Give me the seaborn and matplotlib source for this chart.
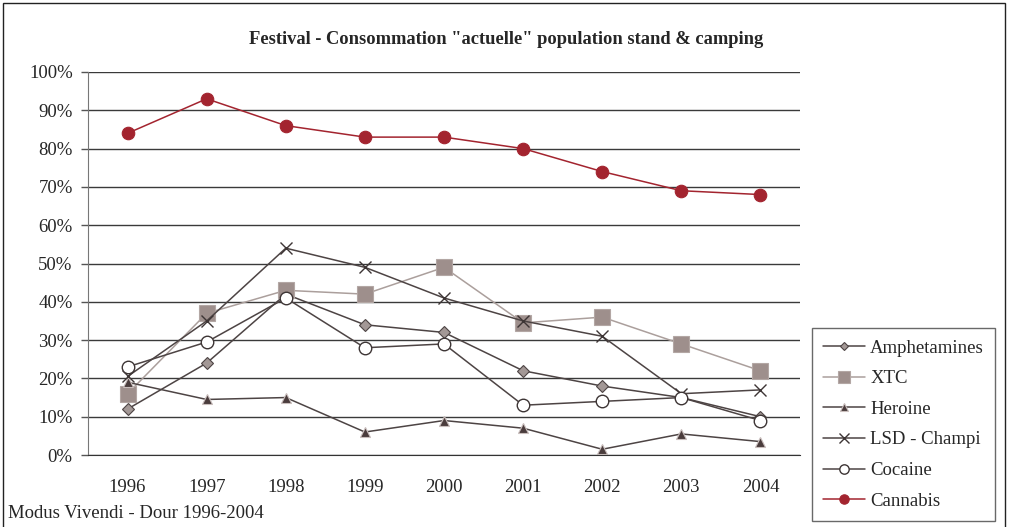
import pandas as pd
import matplotlib
matplotlib.use("Agg")
import matplotlib.pyplot as plt
import seaborn as sns
from matplotlib.patches import Rectangle

# --- données (en %) ---
annees = ["1996", "1997", "1998", "1999", "2000", "2001", "2002", "2003", "2004"]
amphetamines = [12, 24, 42, 34, 32, 22, 18, 15, 10]
xtc = [16, 37, 43, 42, 49, 34.5, 36, 29, 22]
heroine = [19, 14.5, 15, 6, 9, 7, 1.5, 5.5, 3.5]
lsd_champi = [20.5, 35, 54, 49, 41, 35, 31, 16, 17]
cocaine = [23, 29.5, 41, 28, 29, 13, 14, 15, 9]
cannabis = [84, 93, 86, 83, 83, 80, 74, 69, 68]

series = {
    "Amphetamines": amphetamines,
    "XTC": xtc,
    "Heroine": heroine,
    "LSD - Champi": lsd_champi,
    "Cocaine": cocaine,
    "Cannabis": cannabis,
}

# style de chaque série: couleur ligne, marqueur, taille, remplissage, bord
styles = {
    "Amphetamines": dict(color="#4d4444", marker="D", ms=6, mfc="#a39896", mec="#4d4444", mew=0.8),
    "XTC": dict(color="#ab9f9c", marker="s", ms=12, mfc="#9e8f8c", mec="#b3a7a4", mew=0.8),
    "Heroine": dict(color="#4d4444", marker="^", ms=7, mfc="#4a3c3c", mec="#c9bebc", mew=0.8),
    "LSD - Champi": dict(color="#4d4444", marker="x", ms=9, mfc="none", mec="#3d3535", mew=1.0),
    "Cocaine": dict(color="#4d4444", marker="o", ms=9, mfc="white", mec="#3d3535", mew=1.0),
    "Cannabis": dict(color="#a3242f", marker="o", ms=9, mfc="#a3242f", mec="#a3242f", mew=0.8),
}

df = pd.DataFrame(
    [(i, nom, v / 100) for nom, vals in series.items() for i, v in enumerate(vals)],
    columns=["idx", "serie", "valeur"],
)

sns.set_style("white")
plt.rcParams["font.family"] = ["Liberation Serif", "DejaVu Serif"]

fig = plt.figure(figsize=(10.09, 5.27), dpi=100)
ax = fig.add_axes([88 / 1009, 1 - 455 / 527, (800 - 88) / 1009, (455 - 72) / 527])

for nom in series:
    st = styles[nom]
    sub = df[df["serie"] == nom]
    sns.lineplot(data=sub, x="idx", y="valeur", ax=ax, label=nom,
                 color=st["color"], lw=1.1, marker=st["marker"],
                 markersize=st["ms"], markerfacecolor=st["mfc"],
                 markeredgecolor=st["mec"], markeredgewidth=st["mew"])

ax.set_xlim(-0.5, len(annees) - 0.5)
ax.set_ylim(0, 1.0)
ax.set_yticks([i / 10 for i in range(11)])
ax.set_yticklabels([f"{i * 10}%" for i in range(11)], fontsize=13.5)
ax.yaxis.grid(True, color="#3a3a3a", lw=1.0)
ax.set_axisbelow(True)

# graduations x aux frontières, étiquettes au centre
ax.set_xticks([i - 0.5 for i in range(len(annees) + 1)])
ax.set_xticklabels([])
ax.set_xticks(range(len(annees)), minor=True)
ax.set_xticklabels(annees, minor=True, fontsize=13.5)
ax.tick_params(axis="x", which="major", direction="out", length=5, color="#555555", width=1)
ax.tick_params(axis="x", which="minor", length=0, pad=17)
ax.tick_params(axis="y", direction="out", length=5, color="#555555", width=1, left=True, pad=6)
ax.set_xlabel("")
ax.set_ylabel("")

for side in ["top", "right"]:
    ax.spines[side].set_visible(False)
ax.spines["left"].set_color("#777777")
ax.spines["bottom"].set_color("#333333")

leg = ax.legend(loc="lower left", bbox_to_anchor=(812 / 1009, 6 / 527, 183 / 1009, 194 / 527),
                bbox_transform=fig.transFigure, mode="expand", fontsize=13.5,
                frameon=True, fancybox=False, edgecolor="#444444",
                handlelength=2.2, handletextpad=0.3, markerscale=0.75,
                labelspacing=0.72, borderpad=0.6, borderaxespad=0)
leg.get_frame().set_linewidth(1.0)

fig.text(506 / 1009, 1 - 40 / 527, 'Festival - Consommation "actuelle" population stand & camping',
         ha="center", va="center", fontsize=13.3, fontweight="bold")
fig.text(8 / 1009, 1 - 513 / 527, "Modus Vivendi - Dour 1996-2004", ha="left", va="center", fontsize=13.5)

# cadre autour de la figure
fig.patches.append(Rectangle((3 / 1009, -0.01), 1002 / 1009, 1 - 3 / 527 + 0.01,
                             transform=fig.transFigure, fill=False, ec="#222222", lw=1.0))

fig.savefig("out.png", dpi=100)
